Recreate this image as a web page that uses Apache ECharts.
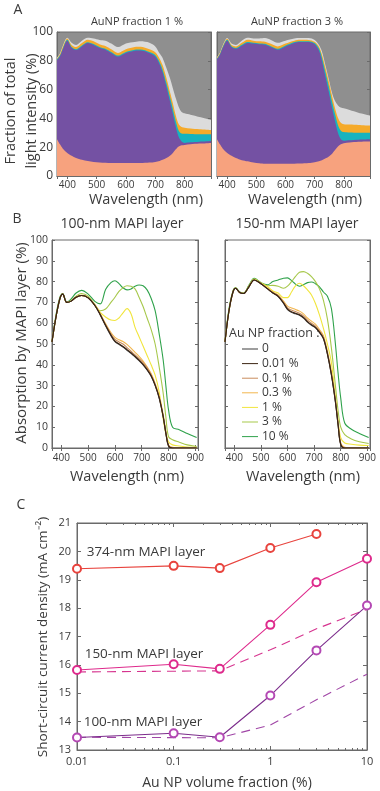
<!DOCTYPE html>
<html><head><meta charset="utf-8">
<script src="https://cdn.jsdelivr.net/npm/echarts@6/dist/echarts.min.js"></script>
<style>html,body{margin:0;padding:0;background:#fff}#c{width:380px;height:791px}</style>
</head><body><div id="c"></div>
<script>
// ---------- Panel A: stacked fractions (cumulative layer tops, %) ----------
const wlA = [365,375,385,400,415,430,450,470,490,510,530,550,573,600,630,650,680,700,715,725,738,750,760,770,780,790,800,820,850,890];
// AuNP fraction 1 %
const a1Salmon = [25.5,22,19,16,14,12.5,11.2,10.4,9.8,9.4,9.2,9,9,9,9,9,9.3,9.8,10.5,11.2,12.5,14,16,18.5,20.5,21.3,21.6,22,22.5,23];
const a1Purple = [80.5,83,88,94,89,87.5,90,92.3,91,89,87.7,85.5,83,85.5,87,87.2,85.5,83,77.5,72,62,52,43,34,27,24,23,23.4,23.8,24.3];
const a1Teal   = [81,83.6,88.6,94.6,89.6,88,90.6,92.9,91.6,89.6,88.3,86.1,83.6,86.1,87.6,87.8,86.1,84,79,74,64.5,55,46.5,38,31.5,29.5,29.3,29.2,29,29];
const a1Orange = [81.5,84.5,89.8,95.5,91,89.5,92.3,94.6,93.5,91.5,90.2,88,85.5,88,89.5,89.7,88,86,81.5,77,68,58.5,50.5,42,36,34,33.5,33,32.5,32];
const a1Gray   = [82,85,90.5,96,92.5,91,94,96,95.5,94.5,94,92,89.5,92,93,93.5,92.5,90,85,82,75,68,61,54,48,44.5,43.5,42.5,41,39];
// AuNP fraction 3 %
const a3Salmon = [25.5,22,19,16,14,12.5,11,10.2,9.3,8.8,8.5,8.5,8.5,8.5,8.5,8.6,9,9.6,10.3,11,12.3,13.8,15.5,18,20.5,22,22.7,23.3,23.8,24];
const a3Purple = [81,84,89,94,89.5,88.3,90.5,92.4,92,91.5,91.2,89.5,87.7,90,92.4,93,93,91.5,87,80,68,57,47,38,30,25.5,24.5,24.8,25.2,25.5];
const a3Teal   = [81.5,84.6,89.6,94.6,90.1,88.9,91.1,93,92.6,92.1,91.8,90.1,88.3,90.6,93,93.6,93.6,92.3,88.5,82.5,71.5,61,51.5,43,35.5,31.5,30.5,30.2,30,30];
const a3Orange = [82,85.2,90.3,95.3,91,90,92.5,94.6,94,93.5,93.2,91.8,90,92,94,94.6,94.5,93.2,89.8,84.5,74.5,64.5,55.5,47,40.5,37,36,35.7,35.5,35];
const a3Gray   = [82.5,85.6,90.8,95.8,92,91,94,96,95.5,95.5,95.8,94.5,92.5,94,95.5,95.8,95.8,94.5,91,86.5,76,66,57.5,52,49,47.5,47,45.8,44,42];
const ticksA = [0,20,40,60,80,100];

// ---------- Panel B: absorption by MAPI layer (%) ----------
const wlB = [365,380,395,405,420,435,455,475,500,525,545,565,585,600,615,630,645,660,675,690,705,720,735,750,765,780,790,800,815,840,870,905];
const fractionNames = ['0','0.01 %','0.1 %','0.3 %','1 %','3 %','10 %'];
const b100_0   = [51,63,72,74,70,70.5,72.5,73.3,72.2,68.5,64,58.8,54,51.1,49.8,48.5,47,45.5,43.8,42,40,37.5,34.5,30,24,15,7,1,0,0,0,0];
const b100_001 = [51,63,72,74,70,70.5,72.5,73.3,72.2,68.5,64.1,59,54.3,51.4,50.1,48.8,47.3,45.8,44.1,42.3,40.2,37.7,34.7,30.2,24.2,15.2,7.2,1,0,0,0,0];
const b100_01  = [51,63,72,74,70,70.5,72.5,73.3,72.2,68.6,64.3,59.3,54.8,52.2,51,50,48.3,46.5,44.8,43,41,38.5,35.2,30.5,24.5,15.5,7.5,1.2,0,0,0,0];
const b100_03  = [51,63,72,74,70,70.5,72.5,73.4,72.3,68.7,64.6,59.8,55.5,53.2,52,51.2,49.8,48,46,44,41.8,39,35.8,31,25,16,8,1.5,0.3,0,0,0];
const b100_1   = [51,63,72,74,70,70.5,72.6,73.4,72.3,68.8,65.2,63,61.5,61.3,62.5,65,67,64.5,58,53.5,49,44.5,40,35,27,14,7,3,1.5,1,0.5,0.3];
const b100_3   = [51,63.5,72.3,74,70,70.8,73,74.3,73,69,66,66.8,70,72.5,75.3,77,78,77.8,76.5,72.5,68,62.5,57,50,39,26.4,15,5.4,4,2.8,1.5,0.7];
const b100_10  = [51,64,72.8,74.3,70.2,71.5,74.5,75.8,74,70.5,69.3,76.2,79.5,80.4,79,77,76,76.5,77.8,78.4,78,76,72,66,55,42.3,30,18.3,10,8.8,7,5];
const b150_0   = [51,66,75,76.8,74.8,74.3,77.5,80.8,79,76.5,74.5,72.8,69.5,66.5,65.2,64.5,63.8,62.5,60.5,59,57.8,55.5,52.5,45,35,22,11,1.5,0,0,0,0];
const b150_001 = [51,66,75,76.8,74.8,74.3,77.5,80.8,79,76.5,74.5,72.9,69.7,66.8,65.5,64.8,64.1,62.8,60.8,59.3,58,55.7,52.7,45.3,35.3,22.3,11.3,1.7,0,0,0,0];
const b150_01  = [51,66,75,76.8,74.8,74.3,77.5,80.8,79,76.6,74.7,73.2,70,67.3,66.3,65.6,64.8,63.5,61.5,60,58.6,56.3,53.2,45.8,35.8,22.8,11.8,2,0,0,0,0];
const b150_03  = [51,66,75,76.8,74.8,74.3,77.6,80.9,79.1,76.8,75,73.6,70.6,68.2,67.3,66.6,65.8,64.5,62.5,61,59.5,57,54,46.5,36.5,23.5,12.5,2.5,0.3,0,0,0];
const b150_1   = [51,66,75,76.8,74.8,74.3,77.8,81,79.3,77.5,75.5,74.5,72.3,72.3,75,78,79.2,78,76,73.6,69.5,64,57.5,50,41,24,13,5,2.4,1.8,1.4,1.2];
const b150_3   = [51,66.5,75.3,77,75,74.5,78,81.3,79.5,78,78.2,77.8,76.8,77.8,80,82.5,84.5,84.8,84,82.4,80,76.5,71,62,48,30,18,10,6.4,4.3,3,2.2];
const b150_10  = [51,67,75.5,77,75,74.5,78.3,81.6,79.5,78.5,80,80.8,81.6,81.8,80.5,78.8,77.8,78.5,79.5,79.8,79,77.5,75,73,67,50,36,24,12,9,7,5];
const ticksB = [0,10,20,30,40,50,60,70,80,90,100];

// ---------- Panel C: short-circuit current density ----------
const npFraction = [0.01,0.1,0.3,1,3,10];
const jsc374 = [19.39,19.49,19.41,20.12,20.61];
const jsc150 = [15.82,16.02,15.86,17.41,18.91,19.74];
const jsc100 = [13.44,13.59,13.45,14.92,16.51,18.09];
const fracDashed = [0.01,0.3,1,3,10];
const jsc150Dashed = [15.75,15.79,16.53,17.27,17.96];
const jsc100Dashed = [13.45,13.43,13.88,14.77,15.67];
const ticksC = [13,14,15,16,17,18,19,20,21];

// ---------- build ----------
const FONT = 'Open Sans';
const TXT = '#3a3a3a';
const AX = '#6a6a6a';
const zip = (xs, ys) => ys.map((y, i) => [xs[i], y]);

function valAxis(o) {
  return Object.assign({
    type: 'value',
    axisLine: {show: true, lineStyle: {color: AX, width: 1}},
    axisTick: {show: true, inside: true, length: 3, lineStyle: {color: AX}},
    splitLine: {show: false},
    axisLabel: {color: TXT, fontFamily: FONT, fontSize: 10, margin: 4}
  }, o);
}
function mirror(o) {
  return Object.assign({
    type: 'value',
    axisLine: {show: true, lineStyle: {color: AX}},
    axisTick: {show: true, inside: true, length: 3, lineStyle: {color: AX}},
    axisLabel: {show: false}, splitLine: {show: false}
  }, o);
}
const hundredLabel = v => (v % 100 === 0 ? String(v) : '');

const grids = [
  {left: 57, top: 32, width: 154, height: 144},
  {left: 217, top: 32, width: 153, height: 144},
  {left: 52, top: 240, width: 146, height: 208},
  {left: 225, top: 240, width: 145, height: 208},
  {left: 77, top: 523, width: 290, height: 227}
].map(g => Object.assign({show: true, borderColor: AX, borderWidth: 1}, g));
grids[0].backgroundColor = '#8f8f8f';
grids[1].backgroundColor = '#8f8f8f';

const xAxes = [], yAxes = [];
// A
for (let g = 0; g < 2; g++) {
  xAxes.push(valAxis({gridIndex: g, min: 365, max: 890, splitNumber: 5,
    axisLabel: {color: TXT, fontFamily: FONT, fontSize: 10, margin: 4, formatter: hundredLabel, showMinLabel: false, showMaxLabel: false}}));
  yAxes.push(valAxis({gridIndex: g, min: ticksA[0], max: ticksA[ticksA.length-1], interval: 20,
    axisLabel: {show: g === 0, color: TXT, fontFamily: FONT, fontSize: 12, margin: 4}}));
}
// B
for (let g = 2; g < 4; g++) {
  xAxes.push(valAxis({gridIndex: g, min: 365, max: 910, splitNumber: 5,
    axisLabel: {color: TXT, fontFamily: FONT, fontSize: 10, margin: 5, formatter: hundredLabel, showMinLabel: false, showMaxLabel: false}}));
  yAxes.push(valAxis({gridIndex: g, min: ticksB[0], max: ticksB[ticksB.length-1], interval: 10,
    axisLabel: {show: g === 2, color: TXT, fontFamily: FONT, fontSize: 10.5, margin: 4}}));
}
// C
xAxes.push({type: 'log', gridIndex: 4, min: 0.01, max: 10, logBase: 10,
  axisLine: {show: true, lineStyle: {color: AX}},
  axisTick: {show: true, inside: true, length: 4, lineStyle: {color: AX}},
  minorTick: {show: true, splitNumber: 9, length: 2, lineStyle: {color: AX}},
  splitLine: {show: false},
  axisLabel: {color: TXT, fontFamily: FONT, fontSize: 11, margin: 6, formatter: v => String(+v.toPrecision(3))}});
yAxes.push(valAxis({gridIndex: 4, min: ticksC[0], max: ticksC[ticksC.length-1], interval: 1,
  axisTick: {show: true, inside: true, length: 4, lineStyle: {color: AX}},
  axisLabel: {color: TXT, fontFamily: FONT, fontSize: 11, margin: 6}}));
// mirrored box ticks (top / right)
[0,1].forEach(g => {
  xAxes.push(mirror({gridIndex: g, position: 'top', min: 365, max: 890, splitNumber: 5}));
  yAxes.push(mirror({gridIndex: g, position: 'right', min: 0, max: 100, interval: 20}));
});
[2,3].forEach(g => {
  xAxes.push(mirror({gridIndex: g, position: 'top', min: 365, max: 910, splitNumber: 5}));
  yAxes.push(mirror({gridIndex: g, position: 'right', min: 0, max: 100, interval: 10}));
});
xAxes.push(mirror({type: 'log', gridIndex: 4, position: 'top', min: 0.01, max: 10, logBase: 10,
  axisTick: {show: true, inside: true, length: 4, lineStyle: {color: AX}},
  minorTick: {show: true, splitNumber: 9, length: 2, lineStyle: {color: AX}}}));
yAxes.push(mirror({gridIndex: 4, position: 'right', min: 13, max: 21, interval: 1,
  axisTick: {show: true, inside: true, length: 4, lineStyle: {color: AX}}}));

const series = [];
function areaLayer(name, xi, xs, ys, color) {
  series.push({name, type: 'line', xAxisIndex: xi, yAxisIndex: xi, data: zip(xs, ys),
    symbol: 'none', smooth: 0.3, lineStyle: {width: 0}, areaStyle: {color, opacity: 1},
    silent: true});
}
const cGray = '#dcdcdc', cOrange = '#f5aa2a', cTeal = '#17b3bf', cPurple = '#7451a3', cSalmon = '#f7a27e';
areaLayer('A1 light gray', 0, wlA, a1Gray, cGray);
areaLayer('A1 orange', 0, wlA, a1Orange, cOrange);
areaLayer('A1 teal', 0, wlA, a1Teal, cTeal);
areaLayer('A1 purple', 0, wlA, a1Purple, cPurple);
areaLayer('A1 salmon', 0, wlA, a1Salmon, cSalmon);
areaLayer('A3 light gray', 1, wlA, a3Gray, cGray);
areaLayer('A3 orange', 1, wlA, a3Orange, cOrange);
areaLayer('A3 teal', 1, wlA, a3Teal, cTeal);
areaLayer('A3 purple', 1, wlA, a3Purple, cPurple);
areaLayer('A3 salmon', 1, wlA, a3Salmon, cSalmon);

const bColors = ['#3c3c3c','#3b2412','#c98c5c','#f2b64e','#f1e53c','#a7c84b','#2fa24b'];
const b100 = [b100_0,b100_001,b100_01,b100_03,b100_1,b100_3,b100_10];
const b150 = [b150_0,b150_001,b150_01,b150_03,b150_1,b150_3,b150_10];
const bOrder = [6,5,4,3,2,0,1];
bOrder.forEach(k => {
  series.push({name: fractionNames[k], type: 'line', xAxisIndex: 2, yAxisIndex: 2, data: zip(wlB, b100[k]),
    symbol: 'none', smooth: 0.35, color: bColors[k], lineStyle: {color: bColors[k], width: 1.1}, itemStyle: {color: bColors[k]}});
  series.push({name: fractionNames[k], type: 'line', xAxisIndex: 3, yAxisIndex: 3, data: zip(wlB, b150[k]),
    symbol: 'none', smooth: 0.35, color: bColors[k], lineStyle: {color: bColors[k], width: 1.1}, itemStyle: {color: bColors[k]}});
});

function cLine(name, xs, ys, color, dashed, markColor) {
  series.push({name, type: 'line', xAxisIndex: 4, yAxisIndex: 4, data: zip(xs, ys),
    symbol: dashed ? 'none' : 'emptyCircle', symbolSize: 8,
    lineStyle: {color, width: 1.1, type: dashed ? [9, 6] : 'solid'},
    itemStyle: {color: markColor || color, borderColor: markColor || color, borderWidth: 1}});
}
cLine('374-nm solid', npFraction, jsc374, '#e8433d', false);
cLine('150-nm dashed', fracDashed, jsc150Dashed, '#d6348f', true);
cLine('150-nm solid', npFraction, jsc150, '#de2a8c', false);
cLine('100-nm dashed', fracDashed, jsc100Dashed, '#a046a6', true);
cLine('100-nm solid', npFraction, jsc100, '#7c2d8c', false, '#b448b4');

const t = (text, x, y, size, extra) => ({type: 'text', x, y,
  style: Object.assign({text, fill: TXT, fontFamily: FONT, fontSize: size, align: 'center', verticalAlign: 'middle'}, extra || {})});
const tr = (text, x, y, size) => ({type: 'text', x, y, rotation: Math.PI/2,
  style: {text, fill: TXT, fontFamily: FONT, fontSize: size, align: 'center', verticalAlign: 'middle'}});

const graphic = [
  t('A', 18, 10, 14),
  t('AuNP fraction 1 %', 137, 22, 11),
  t('AuNP fraction 3 %', 297, 22, 11),
  tr('Fraction of total', 11, 111, 14.5),
  tr('light intensity (%)', 32, 111, 14.5),
  t('Wavelength (nm)', 146, 200, 14.5),
  t('Wavelength (nm)', 305, 200, 14.5),
  t('B', 17, 219, 14),
  t('100-nm MAPI layer', 122, 224, 14),
  t('150-nm MAPI layer', 297, 224, 14),
  tr('Absorption by MAPI layer (%)', 22, 343, 15),
  t('Wavelength (nm)', 127, 477, 14.5),
  t('Wavelength (nm)', 303, 477, 14.5),
  t('Au NP fraction :', 229, 333, 12.5, {align: 'left'}),
  t('C', 21, 505, 14),
  t('374-nm MAPI layer', 146, 552, 13.5),
  t('150-nm MAPI layer', 144, 654, 13.5),
  t('100-nm MAPI layer', 143, 722, 13.5),
  tr('Short-circuit current density (mA cm⁻²)', 43, 637, 13.5),
  t('Au NP volume fraction (%)', 227, 783, 14)
];

const chart = echarts.init(document.getElementById('c'), null, {renderer: 'canvas'});
chart.setOption({
  animation: false,
  backgroundColor: '#ffffff',
  grid: grids, xAxis: xAxes, yAxis: yAxes, series, graphic,
  legend: {
    data: fractionNames.map((n, k) => ({name: n, itemStyle: {color: bColors[k]}, lineStyle: {color: bColors[k]}})),
    orient: 'vertical', left: 242, top: 343,
    itemWidth: 16, itemHeight: 10, itemGap: 2.6, icon: 'path://M0,4.5 L16,4.5 L16,5.5 L0,5.5 Z',
    textStyle: {color: TXT, fontFamily: FONT, fontSize: 12, padding: [0,0,0,-1]},
    padding: 0, selectedMode: false
  }
});
</script></body></html>
